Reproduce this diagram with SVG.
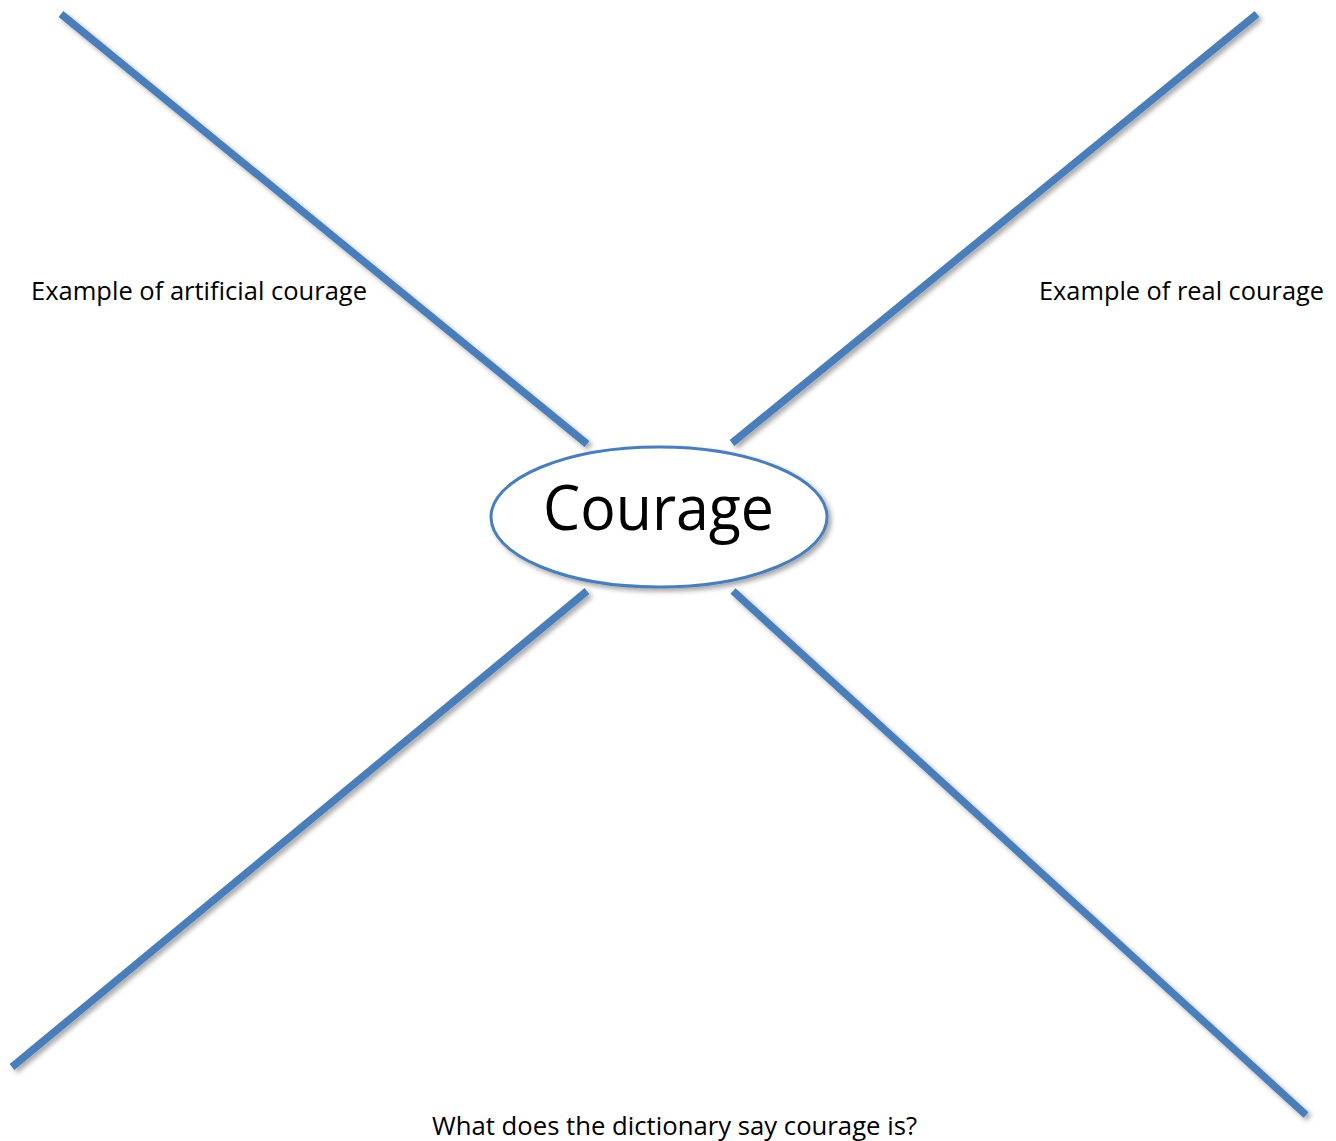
<svg xmlns="http://www.w3.org/2000/svg" width="1336" height="1141" viewBox="0 0 1336 1141">
<defs>
<filter id="sh" x="-20%" y="-20%" width="140%" height="140%">
<feDropShadow dx="3" dy="3" stdDeviation="2.5" flood-color="#000" flood-opacity="0.35"/>
</filter>
</defs>
<style>
.ln{stroke:#4a7ebb;stroke-width:7.5;stroke-linecap:butt;fill:none}
.lbl{font-family:"Open Sans","Liberation Sans",sans-serif;font-size:26px;fill:#000}
</style>
<rect width="1336" height="1141" fill="#fff"/>
<g id="connectors" filter="url(#sh)">
<line class="ln" x1="61" y1="14" x2="587" y2="444"/>
<line class="ln" x1="1257" y1="14" x2="732" y2="443"/>
<line class="ln" x1="587" y1="591" x2="12" y2="1067"/>
<line class="ln" x1="733" y1="591" x2="1306" y2="1115"/>
</g>
<g id="courage">
<ellipse cx="659" cy="517" rx="168" ry="70" fill="#fff" stroke="#4a7ebb" stroke-width="3" filter="url(#sh)"/>
<text x="543" y="530" font-family="Open Sans, Liberation Sans, sans-serif" font-size="63" textLength="231" lengthAdjust="spacingAndGlyphs">Courage</text>
</g>
<g id="label-artificial"><text class="lbl" x="31" y="300" textLength="336" lengthAdjust="spacingAndGlyphs">Example of artificial courage</text></g>
<g id="label-real"><text class="lbl" x="1039" y="300" textLength="285" lengthAdjust="spacingAndGlyphs">Example of real courage</text></g>
<g id="label-dictionary"><text class="lbl" x="432" y="1135" textLength="485" lengthAdjust="spacingAndGlyphs">What does the dictionary say courage is?</text></g>
</svg>
